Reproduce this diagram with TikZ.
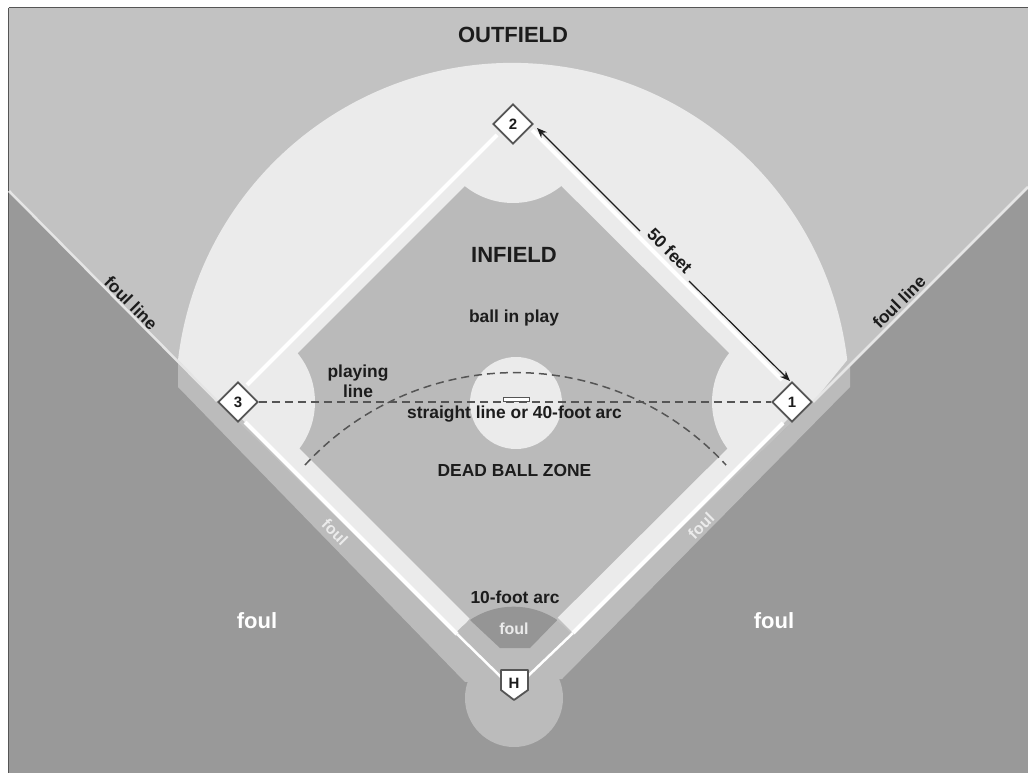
\documentclass[tikz,border=0pt]{standalone}
\usepackage{fontspec}
\setmainfont{Liberation Sans}
\usetikzlibrary{shapes.geometric,arrows.meta}
\definecolor{foulc}{HTML}{999999}
\definecolor{outc}{HTML}{C2C2C2}
\definecolor{stripc}{HTML}{BBBBBB}
\definecolor{infc}{HTML}{BABABA}
\definecolor{lightc}{HTML}{EBEBEB}
\definecolor{wedgec}{HTML}{959595}
\definecolor{inkc}{HTML}{1C1C1C}
\definecolor{dashc}{HTML}{555555}
\tikzset{
  lbl/.style={font=\fontsize{17.4}{20}\selectfont\bfseries,text=inkc,inner sep=0pt,align=center},
  big/.style={font=\fontsize{22}{24}\selectfont\bfseries,text=inkc,inner sep=0pt},
  wbig/.style={big,text=white},
  wsmall/.style={font=\fontsize{16}{18}\selectfont\bfseries,text=white!92!black,inner sep=0pt},
  base/.style={diamond,draw=dashc,fill=white,line width=1.8pt,minimum size=40pt,inner sep=0pt,font=\fontsize{15}{15}\selectfont\bfseries,text=inkc},
  whiteline/.style={draw=white,line width=4pt},
  foulline/.style={draw=white!90!black,line width=2.5pt},
  dashline/.style={draw=dashc,line width=1.5pt,dash pattern=on 8pt off 5pt},
  arrowline/.style={draw=inkc,line width=1.2pt,-{Stealth[length=10pt,width=8pt]}},
}
\begin{document}
\begin{tikzpicture}[x=1pt,y=-1pt]
\useasboundingbox (0,0) rectangle (1028,773);
\fill[white] (0,0) rectangle (1028,773);
% foul ground
\fill[foulc] (9,8) rectangle (1028,773);
% outfield
\fill[outc] (9,8) -- (1028,8) -- (1028,187) -- (813,402) -- (513,693) -- (217,401) -- (9,191) -- cycle;
\draw[dashc,line width=1pt] (8.5,8) -- (1028,8);
\draw[dashc,line width=0.8pt] (8.5,8) -- (8.5,773);
% strip along the foul lines and home circle
\fill[stripc] (178,360) -- (178,387) -- (465,682) -- (562,679) -- (850,387) -- (850,365) -- (813,402) -- (513,690) -- (217,401) -- cycle;
\fill[stripc] (514,698) circle[radius=49];
% light region
\fill[lightc] (178,360) arc[start angle=-173.2,end angle=-6.8,radius=337] -- (813,402) -- (792,415) -- (573,633) -- (557,617) -- (470,618) -- (457,634) -- (240,417) -- (217,401) -- cycle;
% infield
\fill[infc] (251,400) -- (513,138) -- (776,400) -- (513,662) -- cycle;
\begin{scope}
\clip (249,400) -- (513,136) -- (778,400) -- (513,664) -- cycle;
\fill[lightc] (513,126) circle[radius=77];
\fill[lightc] (790,402) circle[radius=78];
\fill[lightc] (238,402) circle[radius=77];
\end{scope}
\fill[lightc] (516,403) circle[radius=46];
% zone round home, inside the 10-foot arc
\begin{scope}
\clip (513,683) circle[radius=76];
\fill[stripc] (450,600) -- (577,600) -- (573,633) -- (530,676) -- (500,676) -- (457,634) -- cycle;
\end{scope}
% wedge
\fill[wedgec] (470,620) arc[start angle=-124,end angle=-56,radius=78] -- (530,648) -- (500,648) -- cycle;
% white lines
\path[foulline] (9,191) -- (217,401);
\path[foulline] (1028,187) -- (813,402);
\path[whiteline] (245,422) -- (457,634);
\path[whiteline] (783,423) -- (573,633);
\draw[white,line width=2.5pt] (457,634) -- (503,679);
\draw[white,line width=2.5pt] (573,633) -- (528,676);
\path[whiteline] (497,135) -- (247,385);
\path[whiteline] (532,130) -- (782,380);
% plate
\fill[white] (503,397.5) rectangle (529,401);
\draw[dashc,line width=1pt] (503,397.5) -- (529,397.5) -- (529,401) -- (503,401) -- cycle;
% bases
\node[base] (b1) at (792,402) {1};
\node[base] (b2) at (513,124) {2};
\node[base] (b3) at (238,402) {3};
\draw[dashc,line width=1.8pt,fill=white,line join=round] (501,670) -- (528,670) -- (528,690) -- (514,700) -- (501,690) -- cycle;
\node[inner sep=0pt,font=\fontsize{15}{15}\selectfont\bfseries,text=inkc] (home) at (514,683) {H};
% dashed lines
\coordinate (arcL) at (305,465);
\draw[dashline] (b3) -- (b1);
\draw[dashline] (arcL) arc[start angle=-137.4,end angle=-42.6,radius=286];
% arrow
\coordinate (gapA) at (640,231);
\coordinate (gapB) at (689,281);
\coordinate (tipA) at (537,128);
\coordinate (tipB) at (790,381);
\draw[arrowline] (gapA) -- (tipA);
\draw[arrowline] (gapB) -- (tipB);
% labels
\node[big] (outfield) at (513,35) {OUTFIELD};
\node[big] (infield) at (514,255) {INFIELD};
\node[lbl] (play) at (514,318) {ball in play};
\node[lbl] (pline) at (358,381) {playing\\line};
\node[lbl] (straight) at (514.5,414) {straight line or 40-foot arc};
\node[lbl] (dead) at (514.5,471) {DEAD BALL ZONE};
\node[lbl] (tenfoot) at (515,597) {10-foot arc};
\node[wsmall] (fwedge) at (514,629) {foul};
\node[wbig] (fl) at (257,621) {foul};
\node[wbig] (fr) at (774,621) {foul};
\node[wsmall,rotate=-45] (fs1) at (335,532) {foul};
\node[wsmall,rotate=45] (fs2) at (701,526) {foul};
\node[lbl,rotate=-45] (fl1) at (131,303) {foul line};
\node[lbl,rotate=45] (fl2) at (899,302) {foul line};
\node[lbl,rotate=-45] (feet) at (670,251) {50 feet};
\end{tikzpicture}
\end{document}
